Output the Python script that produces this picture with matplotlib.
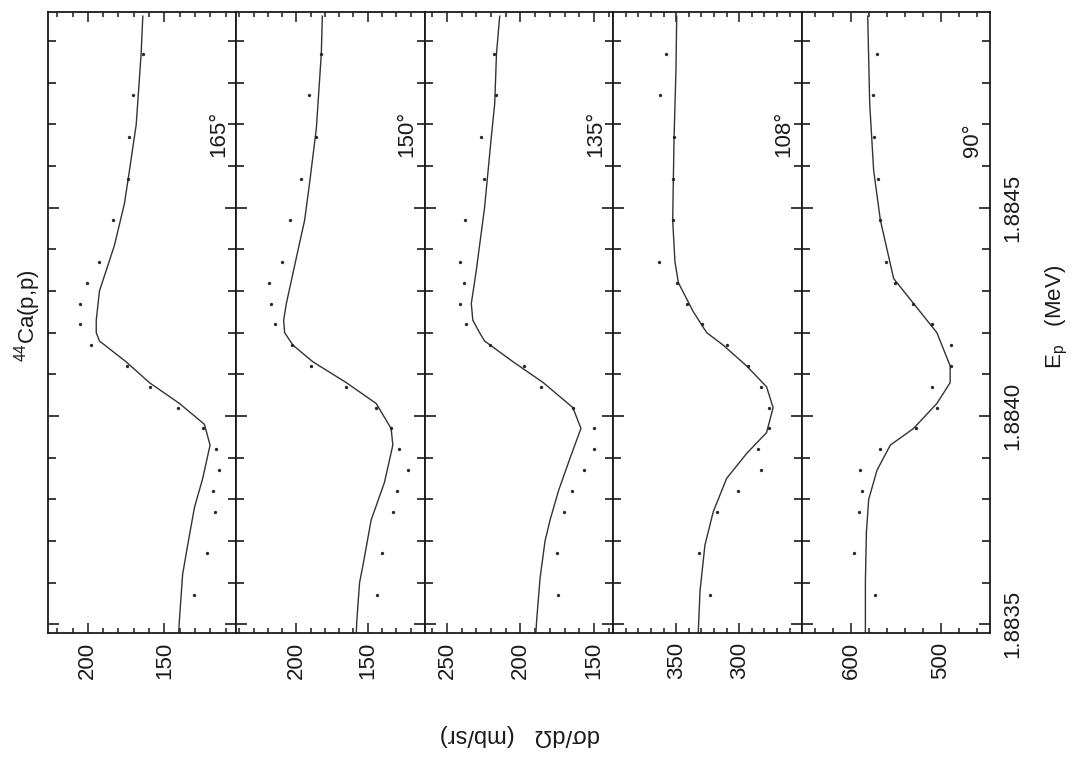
import matplotlib
matplotlib.use("Agg")
import matplotlib.pyplot as plt
from matplotlib.ticker import MultipleLocator, FormatStrFormatter, FixedLocator

plt.rcParams['font.family'] = ['Liberation Sans', 'DejaVu Sans']
plt.rcParams['mathtext.fontset'] = 'custom'
plt.rcParams['mathtext.rm'] = 'Liberation Sans'

# ---------------- data ----------------
angles = ["165°", "150°", "135°", "108°", "90°"]

# proton energies of the measured points (MeV)
E_data = [1.88487, 1.88477, 1.88467, 1.88457, 1.88447, 1.88437, 1.88432,
          1.88427, 1.88422, 1.88417, 1.88412, 1.88407, 1.88402, 1.88397,
          1.88392, 1.88387, 1.88382, 1.88377, 1.88367, 1.88357]

sig_165 = [164.1, 170.7, 172.8, 173.5, 183.7, 192.4, 200.7, 204.8, 204.8, 197.8,
           174.6, 159.3, 141.3, 125.0, 116.3, 114.1, 118.1, 116.8, 122.4, 130.4]
sig_150 = [182.5, 191.2, 186.5, 196.5, 204.2, 209.8, 219.2, 217.5, 215.2, 202.8,
           189.5, 165.0, 144.1, 133.6, 127.8, 121.5, 129.7, 132.4, 140.1, 143.4]
sig_135 = [218.0, 216.3, 227.1, 225.0, 238.0, 241.4, 238.5, 241.0, 236.9, 220.9,
           197.7, 186.0, 164.4, 150.3, 149.8, 156.6, 165.0, 170.1, 174.9, 174.2]
sig_108 = [358.1, 362.8, 351.7, 352.8, 352.3, 363.4, 349.6, 341.7, 329.8, 310.0,
           292.9, 282.8, 276.5, 276.2, 284.9, 283.0, 300.8, 317.4, 331.7, 323.2]
sig_90 = [570.9, 575.3, 574.7, 570.2, 567.2, 560.6, 550.6, 530.9, 509.8, 488.7,
          488.7, 509.8, 504.2, 527.2, 567.2, 589.4, 587.6, 591.3, 596.1, 573.6]

# fitted curves
E_fit_165 = [1.88496, 1.88487, 1.88470, 1.88459, 1.88451, 1.88441, 1.88430, 1.88423,
             1.88420, 1.88418, 1.88413, 1.88408, 1.88403, 1.88398, 1.88393, 1.88385,
             1.88378, 1.88369, 1.88362, 1.88351, 1.88348]
fit_165 = [164.1, 165.2, 168.4, 172.8, 176.1, 182.6, 192.4, 194.5, 194.5, 192.4, 175.0,
           159.8, 140.2, 123.9, 120.2, 125.0, 130.4, 134.8, 138.1, 140.2, 140.7]

E_fit_150 = [1.88496, 1.88487, 1.88469, 1.88456, 1.88447, 1.88438, 1.88427, 1.88423,
             1.88420, 1.88417, 1.88413, 1.88408, 1.88403, 1.88397, 1.88393, 1.88384,
             1.88375, 1.88364, 1.88360, 1.88351, 1.88348]
fit_150 = [181.8, 182.5, 186.0, 190.7, 194.2, 200.0, 207.0, 208.9, 208.2, 202.4, 188.4,
           165.0, 144.1, 133.6, 132.4, 138.3, 147.6, 153.4, 155.7, 157.6, 158.0]

E_fit_135 = [1.88496, 1.88487, 1.88475, 1.88467, 1.88450, 1.88435, 1.88427, 1.88423,
             1.88420, 1.88418, 1.88413, 1.88408, 1.88402, 1.88397, 1.88390, 1.88382,
             1.88375, 1.88370, 1.88361, 1.88351, 1.88348]
fit_135 = [214.1, 216.3, 217.5, 219.8, 224.4, 230.0, 233.4, 232.4, 227.8, 224.4, 205.0,
           184.5, 164.4, 158.9, 166.2, 174.2, 179.9, 183.3, 186.7, 189.0, 189.5]

E_fit_108 = [1.88496, 1.88483, 1.88467, 1.88447, 1.88437, 1.88432, 1.88425, 1.88420,
             1.88417, 1.88412, 1.88407, 1.88402, 1.88396, 1.88391, 1.88385, 1.88377,
             1.88369, 1.88358, 1.88348]
fit_108 = [349.6, 350.2, 351.7, 352.8, 351.0, 348.3, 336.4, 325.8, 312.7, 294.1, 278.3,
           273.1, 278.3, 294.1, 310.0, 320.6, 327.2, 331.1, 332.5]

E_fit_90 = [1.88496, 1.88475, 1.88459, 1.88447, 1.88433, 1.88427, 1.88420, 1.88412,
            1.88408, 1.88403, 1.88397, 1.88393, 1.88387, 1.88380, 1.88372, 1.88360,
            1.88348]
fit_90 = [581.3, 579.1, 574.7, 567.2, 552.4, 530.2, 504.2, 489.4, 489.4, 504.2, 530.2,
          556.1, 570.9, 580.2, 582.8, 583.9, 583.9]

sig_data = [sig_165, sig_150, sig_135, sig_108, sig_90]
E_fits = [E_fit_165, E_fit_150, E_fit_135, E_fit_108, E_fit_90]
fits = [fit_165, fit_150, fit_135, fit_108, fit_90]

# cross-section axis ranges (left value, right value) -- axis increases to the left
sig_lims = [(226, 103), (242, 110), (265, 137), (400, 250.5), (655, 445)]
sig_major = [[150, 200], [150, 200], [150, 200, 250], [300, 350], [500, 600]]
sig_minor = [10, 10, 10, 10, 20]

E_lim = (1.88348, 1.88497)
E_ticks = [1.8835, 1.8840, 1.8845]

# ---------------- figure ----------------
W, H = 1089, 761
fig = plt.figure(figsize=(W / 100, H / 100), dpi=100)
fig.patch.set_facecolor("white")

x0, x1 = 48, 990
ytop, ybot = 12, 632.5
pw = (x1 - x0) / 5
ink = "#1a1a1a"

for i in range(5):
    ax = fig.add_axes([(x0 + i * pw) / W, 1 - ybot / H, pw / W, (ybot - ytop) / H])
    ax.plot(fits[i], E_fits[i], color="#333333", lw=1.0)
    ax.plot(sig_data[i], E_data, linestyle="none", marker="o", ms=2.1,
            color="#222222", mec="#222222", mew=0.3)
    ax.set_xlim(*sig_lims[i])
    ax.set_ylim(*E_lim)
    for s in ax.spines.values():
        s.set_linewidth(1.3)
        s.set_color(ink)

    ax.xaxis.set_major_locator(FixedLocator(sig_major[i]))
    ax.xaxis.set_minor_locator(MultipleLocator(sig_minor[i]))
    ax.xaxis.set_major_formatter(FormatStrFormatter("%d"))
    ax.tick_params(axis="x", which="both", direction="in", top=True, bottom=True,
                   color=ink, width=1.1)
    ax.tick_params(axis="x", which="major", length=7, labelsize=16, pad=7,
                   labelrotation=90, labelcolor=ink)
    ax.tick_params(axis="x", which="minor", length=3.5)

    ax.yaxis.set_major_locator(FixedLocator(E_ticks))
    ax.yaxis.set_minor_locator(MultipleLocator(0.0001))
    ax.tick_params(axis="y", which="both", direction="in", left=True, right=True,
                   color=ink, width=1.2)
    ax.tick_params(axis="y", which="major", length=8)
    ax.tick_params(axis="y", which="minor", length=5.5)
    if i == 4:
        ax.yaxis.set_major_formatter(FormatStrFormatter("%.4f"))
        ax.tick_params(axis="y", which="major", labelleft=False, labelright=True,
                       labelsize=16, pad=9, labelrotation=90, labelcolor=ink)
        for lab in ax.get_yticklabels():
            lab.set_verticalalignment("center")
    else:
        ax.tick_params(axis="y", labelleft=False, labelright=False)

    ax.text(0.905, 1 - (157 - ytop) / (ybot - ytop), angles[i], transform=ax.transAxes,
            rotation=90, ha="center", va="bottom", fontsize=16, color=ink)

fig.text(28 / W, 1 - 316 / H, r"$^{\mathregular{44}}$Ca(p,p)", rotation=90,
         ha="center", va="center", fontsize=16, color=ink)
fig.text(1057 / W, 1 - 317 / H, r"E$_{\mathregular{p}}$   (MeV)", rotation=90,
         ha="center", va="center", fontsize=16, color=ink)
fig.text(520 / W, 1 - 735 / H, "dσ/dΩ   (mb/sr)", rotation=180,
         ha="center", va="center", fontsize=17, color=ink)

fig.savefig("out.png", dpi=100, facecolor="white")
